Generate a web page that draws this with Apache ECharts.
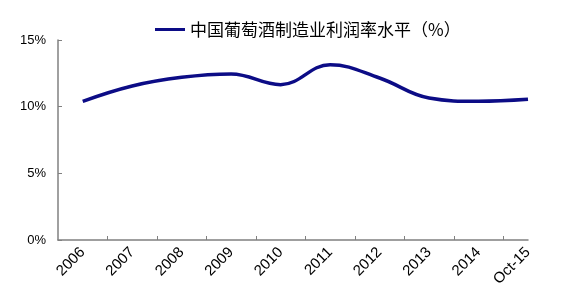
<!DOCTYPE html>
<html>
<head>
<meta charset="utf-8">
<script src="https://cdn.jsdelivr.net/npm/echarts@6/dist/echarts.min.js"></script>
<style>html,body{margin:0;padding:0;background:#fff;}#c{width:568px;height:303px;}</style>
</head>
<body>
<div id="c"></div>
<script>
const seriesName = '中国葡萄酒制造业利润率水平（%）';
const periods = ['2006','2007','2008','2009','2010','2011','2012','2013','2014','Oct-15'];
const profitRate = [10.4, 11.55, 12.2, 12.45, 11.65, 13.15, 12.15, 10.65, 10.4, 10.55];
const yTicks = [0, 5, 10, 15];

// half-step categories: a blank slot before each period so ticks sit between periods
const cats = [];
const data = [];
periods.forEach((p, i) => {
  cats.push('mid' + i); data.push(null);
  cats.push(p); data.push(profitRate[i]);
});

const chart = echarts.init(document.getElementById('c'), null, {renderer: 'canvas'});
chart.setOption({
  animation: false,
  backgroundColor: '#fff',
  legend: {
    left: 150, top: 16,
    itemWidth: 30, itemHeight: 3, itemGap: 4,
    icon: 'rect',
    textStyle: {fontFamily: 'Noto Sans CJK SC', fontSize: 17, color: '#000'},
    data: [seriesName]
  },
  grid: {left: 58, right: 40, top: 40, bottom: 63, containLabel: false},
  xAxis: {
    type: 'category',
    data: cats,
    boundaryGap: false,
    axisLine: {lineStyle: {color: '#808080', width: 1.5}},
    axisTick: {
      inside: true, length: 4,
      lineStyle: {color: '#808080'},
      interval: (i) => i > 0 && i % 2 === 0
    },
    axisLabel: {
      interval: (i) => i % 2 === 1,
      rotate: 45, margin: 10,
      fontFamily: 'Liberation Sans', fontSize: 15, color: '#000'
    },
    splitLine: {show: false}
  },
  yAxis: {
    type: 'value',
    min: yTicks[0], max: yTicks[yTicks.length - 1], interval: 5,
    axisLine: {show: true, lineStyle: {color: '#808080', width: 1.5}},
    axisTick: {show: true, inside: true, length: 4, lineStyle: {color: '#808080'}},
    axisLabel: {
      formatter: '{value}%', margin: 12,
      fontFamily: 'Liberation Sans Narrow, Liberation Sans', fontSize: 13, color: '#000'
    },
    splitLine: {show: false}
  },
  series: [{
    name: seriesName,
    type: 'line',
    data: data,
    connectNulls: true,
    smooth: 0.4,
    showSymbol: false,
    symbol: 'none',
    lineStyle: {color: '#0c0c86', width: 3.5},
    itemStyle: {color: '#0c0c86'}
  }]
});
</script>
</body>
</html>
